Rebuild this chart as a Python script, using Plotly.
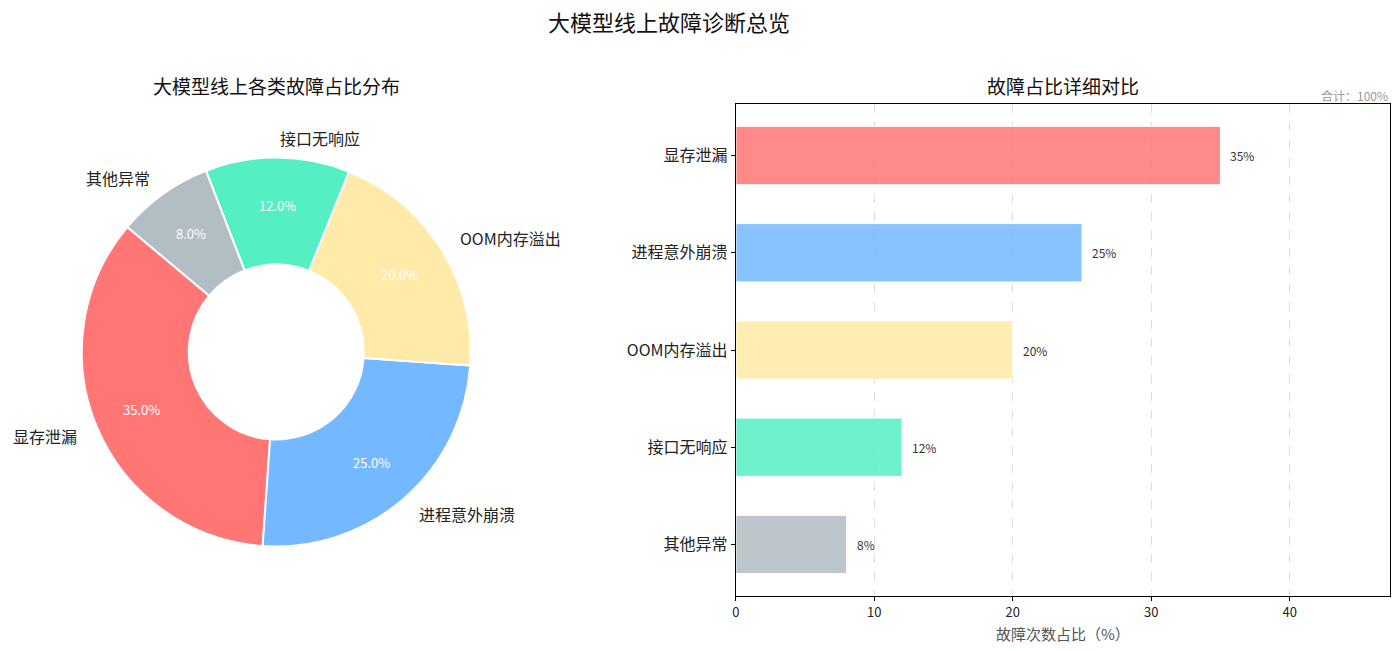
import math
import plotly.graph_objects as go

# ---------------- data ----------------
categories = ["显存泄漏", "进程意外崩溃", "OOM内存溢出", "接口无响应", "其他异常"]
shares = [35, 25, 20, 12, 8]
pie_colors = ["#FF7675", "#74B9FF", "#FFEAA7", "#55EFC4", "#B2BEC3"]
x_ticks = [0, 10, 20, 30, 40]

main_title = "大模型线上故障诊断总览"
pie_title = "大模型线上各类故障占比分布"
bar_title = "故障占比详细对比"
x_title = "故障次数占比（%）"
total_note = "合计：100%"

W, H = 1400, 651
FONT = "Noto Sans CJK SC, DejaVu Sans, sans-serif"

def px(x):
    return x / W

def py(y):
    return 1 - y / H

# pie geometry (pixels)
cx, cy, R = 273, 352, 195
start_angle = 140.0  # degrees, counterclockwise from 3 o'clock
total = sum(shares)
# plotly (counterclockwise): first slice ends at `rotation` (clockwise from 12 o'clock)
first_span = shares[0] / total * 360
rotation = 90 - (start_angle + first_span)

fig = go.Figure()

fig.add_trace(go.Pie(
    labels=categories,
    values=shares,
    sort=False,
    direction="counterclockwise",
    rotation=rotation,
    hole=0.45,
    marker=dict(colors=pie_colors, line=dict(color="white", width=2)),
    textinfo="none",
    showlegend=False,
    domain=dict(x=[px(cx - R), px(cx + R)], y=[py(cy + R), py(cy - R)]),
))

annotations = []
cum = 0.0
for lab, v in zip(categories, shares):
    mid = math.radians(start_angle + (cum + v / 2) / total * 360)
    cum += v
    c, s = math.cos(mid), math.sin(mid)
    # percentage text
    annotations.append(dict(
        x=px(cx + 0.75 * R * c), y=py(cy - 0.75 * R * s), xref="paper", yref="paper",
        text=f"{v / total * 100:.1f}%", showarrow=False,
        font=dict(family=FONT, size=13, color="white"),
        xanchor="center", yanchor="middle"))
    # outside label
    annotations.append(dict(
        x=px(cx + 1.1 * R * c), y=py(cy - 1.1 * R * s), xref="paper", yref="paper",
        text=lab, showarrow=False,
        font=dict(family=FONT, size=16, color="#222"),
        xanchor="left" if c >= 0 else "right", yanchor="middle"))

# bar chart
fig.add_trace(go.Bar(
    y=categories, x=shares, orientation="h",
    marker=dict(color=pie_colors, opacity=0.85, line=dict(color="white", width=1)),
    width=0.6, showlegend=False, xaxis="x", yaxis="y",
    hoverinfo="x+y",
))

for lab, v in zip(categories, shares):
    annotations.append(dict(
        x=v, y=lab, xref="x", yref="y", text=f"{v}%", showarrow=False,
        xanchor="left", yanchor="middle", xshift=8,
        font=dict(family=FONT, size=12, color="#333")))

# titles
annotations += [
    dict(x=px(667), y=py(21), xref="paper", yref="paper", text=main_title, showarrow=False,
         font=dict(family=FONT, size=22, color="#111"), xanchor="center", yanchor="middle"),
    dict(x=px(cx), y=py(86), xref="paper", yref="paper", text=pie_title, showarrow=False,
         font=dict(family=FONT, size=19, color="#111"), xanchor="center", yanchor="middle"),
    dict(x=px(1062), y=py(86), xref="paper", yref="paper", text=bar_title, showarrow=False,
         font=dict(family=FONT, size=19, color="#111"), xanchor="center", yanchor="middle"),
    dict(x=px(1390), y=py(95), xref="paper", yref="paper", text=total_note, showarrow=False,
         font=dict(family=FONT, size=12, color="#999"), xanchor="right", yanchor="middle"),
    dict(x=px(1062), y=py(633), xref="paper", yref="paper", text=x_title, showarrow=False,
         font=dict(family=FONT, size=15, color="#555"), xanchor="center", yanchor="middle"),
]

fig.update_layout(
    width=W, height=H,
    margin=dict(l=0, r=0, t=0, b=0),
    paper_bgcolor="white", plot_bgcolor="white",
    font=dict(family=FONT, color="#222"),
    annotations=annotations,
    bargap=0.4,
    xaxis=dict(
        domain=[px(734), px(1390)], anchor="y",
        range=[0, max(shares) * 1.35],
        tickvals=x_ticks, ticks="outside", ticklen=4, tickcolor="black",
        tickfont=dict(family=FONT, size=13, color="#222"),
        showgrid=True, gridcolor="rgba(0,0,0,0.13)", griddash="dash", gridwidth=1,
        showline=True, linecolor="black", linewidth=1.2, mirror=True,
        zeroline=False,
    ),
    yaxis=dict(
        domain=[py(596), py(104)], anchor="x",
        type="category", categoryorder="array", categoryarray=categories,
        range=[len(categories) - 1 + 0.53, -0.53],
        ticks="outside", ticklen=4, tickcolor="black",
        tickfont=dict(family=FONT, size=16, color="#222"),
        showgrid=False,
        showline=True, linecolor="black", linewidth=1.2, mirror=True,
        zeroline=False,
    ),
)

fig.write_html("out.html")
